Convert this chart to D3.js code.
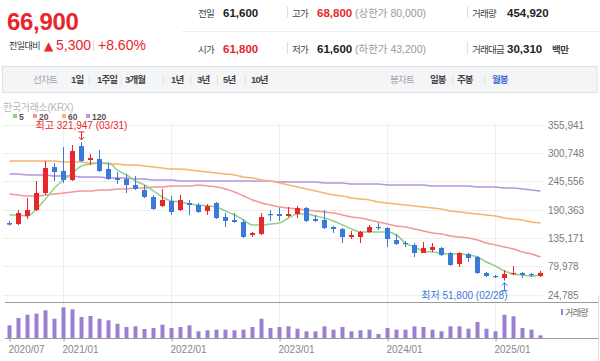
<!DOCTYPE html>
<html><head><meta charset="utf-8">
<script src="https://cdn.jsdelivr.net/npm/d3@7/dist/d3.min.js"></script>
<style>
html,body{margin:0;padding:0;background:#fff;}
svg{display:block;font-family:"Liberation Sans","Noto Sans CJK KR",sans-serif;}
</style></head>
<body><svg id="chart" width="600" height="361"></svg>
<script>
// ---------- DATA ----------
const months = ["2020/07","2020/08","2020/09","2020/10","2020/11","2020/12",
"2021/01","2021/02","2021/03","2021/04","2021/05","2021/06","2021/07","2021/08","2021/09","2021/10","2021/11","2021/12",
"2022/01","2022/02","2022/03","2022/04","2022/05","2022/06","2022/07","2022/08","2022/09","2022/10","2022/11","2022/12",
"2023/01","2023/02","2023/03","2023/04","2023/05","2023/06","2023/07","2023/08","2023/09","2023/10","2023/11","2023/12",
"2024/01","2024/02","2024/03","2024/04","2024/05","2024/06","2024/07","2024/08","2024/09","2024/10","2024/11","2024/12",
"2025/01","2025/02","2025/03","2025/04","2025/05","2025/06"];
const openP = [164000,162000,177700,189400,222500,273000,265400,247800,314000,286800,288700,269300,251700,249800,238100,228400,214700,197200,206900,189400,203000,199100,187400,203000,175800,169900,166000,140700,142600,181600,181600,177700,181600,193300,171900,169900,156300,152400,136800,136800,146500,156300,154300,131000,125100,121200,105600,111500,115400,105600,84200,103700,97800,66700,60800,56900,64700,66700,64700,60800];
const highP = [168000,189400,212800,245900,284800,281000,312000,316000,321947,298500,306300,281000,263400,259500,255600,238000,218600,230300,216700,218600,208900,203000,201000,205000,183500,183500,171900,146500,183500,189400,193300,195200,197200,195200,179700,189400,158200,154300,148500,148500,160200,164000,156300,142600,129000,125100,127000,125100,117300,107600,107600,105600,99800,68600,62800,72500,80300,68600,66700,70600];
const lowP = [159000,160000,171900,187400,218600,245900,242000,245900,283000,277000,263400,247800,240000,222500,228400,212800,189400,195200,179700,187400,179700,183500,179700,171900,156300,164000,134800,136800,140700,168000,168000,175800,173800,166000,166000,152400,144600,125100,132900,125100,144600,150400,117300,121200,117300,97800,105600,107600,99800,80300,78400,88100,64700,58900,56900,51800,62800,56900,58900,58900];
const closeP = [161000,183500,189400,222500,271200,263400,247800,304300,284800,290700,265400,249800,247800,238100,230300,214700,191300,208900,185500,208900,199100,185500,197200,173800,168000,166000,136800,144600,175800,179700,177700,181600,193300,168000,168000,154300,152400,136800,140700,146500,156300,154300,132900,123200,123200,105600,115400,117300,101700,82300,105600,95900,66700,60800,58900,64700,66700,62800,62800,66900];
const ma5 = [179700,179700,177700,191300,210800,232200,247800,261500,275100,279000,280900,280900,267300,257600,245900,238100,226400,214700,206900,205000,201100,199100,197200,195200,187400,179700,169900,160200,160200,162100,164100,173800,181600,181600,177700,173800,168000,160200,152400,146500,146500,146500,146500,140700,125100,117300,109500,107600,105600,103700,103700,101700,97800,88100,80300,70600,64700,62800,60800,62800];
const ma20 = [220600,218600,216700,216700,218600,220600,222500,224500,226400,226400,228400,228400,230300,230300,232200,232200,234200,234200,236100,236100,236100,238100,236100,234200,230300,224500,216700,208900,203000,199100,195200,193300,191300,189400,187400,185500,183500,179700,175800,173800,169900,166000,162100,158200,156300,152400,148500,144600,142600,138700,136800,134800,131000,125100,121200,117300,113400,107600,103700,97800];
const ma60 = [284800,284800,284800,284800,284800,284800,282900,282900,282900,280900,280900,279000,279000,277100,277100,275100,273200,271200,269300,269300,267300,265400,263400,261500,259500,257600,253700,251700,247800,245900,242000,238100,234200,230300,226400,222500,218600,216700,212800,210800,208900,205000,203000,201100,199100,197200,195200,193300,191300,187400,185500,183500,181600,179700,177700,173800,171900,169900,166000,164100];
const ma120 = [259500,259500,257600,257600,257600,255600,255600,255600,253700,253700,253700,251700,251700,251700,249800,249800,247800,247800,247800,245900,245900,245900,245900,245900,245900,245900,245900,245900,245900,245900,243900,243900,243900,243900,243900,242000,242000,242000,240000,240000,240000,240000,238100,238100,238100,238100,238100,236100,236100,236100,236100,236100,234200,234200,234200,232200,232200,230300,228400,226400];
const volume = [1270,2000,2330,2430,2770,1930,3070,2870,2100,2200,1930,1770,1430,1100,1170,900,1000,1330,1000,1100,1270,670,770,830,830,770,830,1100,1930,1000,1100,1170,930,670,670,1170,830,1100,670,770,830,400,1000,830,830,1170,1100,830,670,1170,1170,930,1600,930,670,2330,2170,1000,830,270];
const priceTicks = [355941,300748,245556,190363,135171,79978,24785];
const dateTicks = ["2020/07","2021/01","2022/01","2023/01","2024/01","2025/01"];
const maNames = ["5","20","60","120"];
const periodTabs = ["1일","1주일","3개월","1년","3년","5년","10년"];
const candleTabs = ["일봉","주봉","월봉"];
const lastPrice = 66900, change = 5300, changePct = 8.60;
const row1 = [["전일","61,600",""],["고가","68,800","(상한가 80,000)"],["거래량","454,920",""]];
const row2 = [["시가","61,800",""],["저가","61,600","(하한가 43,200)"],["거래대금","30,310","백만"]];
const maxInfo = {month:"2021/03", value:321947, date:"03/31"};
const minInfo = {month:"2025/02", value:51800, date:"02/28"};

// ---------- DRAW ----------
const RED="#e8262b", BLUE="#3a7ad8", DARK="#222", GRAY="#999";
const maColors = ["#93cf88","#f29797","#f6b46e","#b793e3"];
const svg = d3.select("#chart");
const fmt = d3.format(",");

// header
svg.append("text").attr("x",7).attr("y",30).attr("font-size",24).attr("font-weight","bold")
  .attr("fill",RED).attr("letter-spacing","-0.3").text(fmt(lastPrice));
svg.append("text").attr("x",9).attr("y",49).attr("font-size",9).attr("fill","#333").attr("letter-spacing","-0.5").text("전일대비");
svg.append("text").attr("x",44).attr("y",50).attr("font-size",12).attr("fill",RED).attr("font-family","DejaVu Sans").text("▲");
svg.append("text").attr("x",56).attr("y",50).attr("font-size",14).attr("fill",RED).text(fmt(change));
svg.append("line").attr("x1",93.5).attr("x2",93.5).attr("y1",39).attr("y2",51).attr("stroke","#ddd");
svg.append("text").attr("x",98).attr("y",50).attr("font-size",14).attr("fill",RED).text("+"+changePct.toFixed(2)+"%");

svg.append("line").attr("x1",182).attr("x2",600).attr("y1",31.5).attr("y2",31.5).attr("stroke","#eceef1");
const colX = [[198,223,355],[292,317,355],[472,507,552]];
[[row1,16.5],[row2,52.5]].forEach(([row,yy],ri)=>{
  row.forEach((cell,ci)=>{
    const [lbl,val,extra] = cell;
    svg.append("text").attr("x",colX[ci][0]).attr("y",yy).attr("font-size",9.5).attr("fill","#444").attr("letter-spacing","-0.7").text(lbl);
    const valRed = (ri===0&&ci===1)||(ri===1&&ci===0);
    svg.append("text").attr("x",colX[ci][1]).attr("y",yy).attr("font-size",11.5).attr("font-weight","bold")
      .attr("fill",valRed?RED:DARK).text(val);
    if(extra){
      if(ci===2){
        svg.append("text").attr("x",colX[ci][2]).attr("y",yy).attr("font-size",9.5).attr("font-weight","bold")
          .attr("fill","#444").attr("letter-spacing","-0.5").text(extra);
      } else {
        svg.append("text").attr("x",colX[ci][2]).attr("y",yy).attr("font-size",10.5)
          .attr("fill",GRAY).text(extra);
      }
    }
  });
  [287.5,467.5].forEach(sx=>svg.append("line").attr("x1",sx).attr("x2",sx).attr("y1",yy-10).attr("y2",yy+1).attr("stroke","#ddd"));
});

// tab bar
svg.append("rect").attr("x",2.5).attr("y",66.5).attr("width",594.5).attr("height",26).attr("fill","#f4f5f7").attr("stroke","#dde0e5");
const tabY = 83;
svg.append("text").attr("x",33).attr("y",tabY).attr("font-size",9.5).attr("fill","#a0a4ab").attr("letter-spacing","-0.7").text("선차트");
const tabX = [71,97,125,171,197,223,251];
periodTabs.forEach((t,i)=>svg.append("text").attr("x",tabX[i]).attr("y",tabY).attr("font-size",9.5)
  .attr("font-weight","bold").attr("fill","#444").attr("letter-spacing","-0.9").text(t));
[89,121,163,190,217,245].forEach(sx=>svg.append("line").attr("x1",sx+.5).attr("x2",sx+.5).attr("y1",75).attr("y2",85).attr("stroke","#e1e3e7"));
svg.append("text").attr("x",390).attr("y",tabY).attr("font-size",9.5).attr("fill","#a0a4ab").attr("letter-spacing","-0.7").text("봉차트");
const ctX = [430,457,492];
candleTabs.forEach((t,i)=>svg.append("text").attr("x",ctX[i]).attr("y",tabY).attr("font-size",9.5)
  .attr("font-weight","bold").attr("fill",i===2?"#3b6fd6":"#444").attr("letter-spacing","-0.9").text(t));
[452,484].forEach(sx=>svg.append("line").attr("x1",sx+.5).attr("x2",sx+.5).attr("y1",75).attr("y2",85).attr("stroke","#e1e3e7"));

// scales
const x = d3.scalePoint().domain(months).range([9,540]);
const y = d3.scaleLinear().domain([24785,355941]).range([294.5,124.5]);
const vy = d3.scaleLinear().domain([0,d3.max(volume)]).range([338,307.3]);
const cx = m => x(m)+0.5;

// grid
const grid = svg.append("g");
grid.selectAll("line.h").data(priceTicks).join("line")
  .attr("x1",3).attr("x2",543).attr("y1",d=>Math.round(y(d))+0.5).attr("y2",d=>Math.round(y(d))+0.5)
  .attr("stroke","#efefef");
grid.selectAll("line.v").data(dateTicks.slice(1)).join("line")
  .attr("x1",d=>cx(d)).attr("x2",d=>cx(d)).attr("y1",124).attr("y2",338).attr("stroke","#efefef");

// right axis labels
const yAxis = d3.axisRight(y).tickValues(priceTicks).tickFormat(fmt).tickSize(0).tickPadding(0);
const ya = svg.append("g").attr("transform","translate(548,0)").call(yAxis);
ya.select(".domain").remove();
ya.selectAll("text").attr("font-size",10).attr("fill","#7a7a7a").attr("font-family",null).attr("dy","0.35em");

// source + legend
svg.append("text").attr("x",3).attr("y",111).attr("font-size",10).attr("fill","#b8b8b8").attr("letter-spacing","-0.3").text("한국거래소(KRX)");
const legX = [13,33,62,86];
maNames.forEach((n,i)=>{
  svg.append("rect").attr("x",legX[i]).attr("y",114).attr("width",4).attr("height",4).attr("fill",maColors[i]);
  svg.append("text").attr("x",legX[i]+6).attr("y",119.5).attr("font-size",8.5).attr("font-weight","bold").attr("fill","#555").text(n);
});

// clip
svg.append("clipPath").attr("id","plot").append("rect").attr("x",3).attr("y",118).attr("width",541).attr("height",180);

// MA lines
const lineGen = d3.line().x((d,i)=>cx(months[i])).y(d=>y(d)).curve(d3.curveMonotoneX);
const maG = svg.append("g").attr("clip-path","url(#plot)");
[ma120,ma60,ma20,ma5].forEach((arr,k)=>{
  const idx = 3-k;
  maG.append("path").attr("d",lineGen(arr)).attr("fill","none").attr("stroke",maColors[idx]).attr("stroke-width",1.5);
});

// candles
const data = months.map((m,i)=>({m,o:openP[i],h:highP[i],l:lowP[i],c:closeP[i],v:volume[i]}));
const cg = svg.append("g");
const col = d => d.c>=d.o?RED:BLUE;
cg.selectAll("line.w").data(data).join("line")
  .attr("x1",d=>cx(d.m)).attr("x2",d=>cx(d.m)).attr("y1",d=>y(d.h)).attr("y2",d=>y(d.l))
  .attr("stroke",col).attr("stroke-width",1);
cg.selectAll("rect.b").data(data).join("rect")
  .attr("x",d=>cx(d.m)-2.5).attr("width",5)
  .attr("y",d=>y(Math.max(d.o,d.c))).attr("height",d=>Math.max(1.2,Math.abs(y(d.o)-y(d.c))))
  .attr("fill",col);

// max / min annotations
const mxX = cx(maxInfo.month), mxY = y(maxInfo.value);
svg.append("text").attr("x",mxX).attr("y",mxY-13).attr("text-anchor","middle").attr("font-size",10).attr("fill",RED)
  .text("최고 "+fmt(maxInfo.value)+" ("+maxInfo.date+")");
svg.append("path").attr("d",`M${mxX-3},${mxY-10}H${mxX+3}M${mxX},${mxY-10}V${mxY-2}M${mxX-2.5},${mxY-5}L${mxX},${mxY-2}L${mxX+2.5},${mxY-5}`)
  .attr("stroke",RED).attr("fill","none").attr("stroke-width",1);
const mnX = cx(minInfo.month), mnY = y(minInfo.value);
svg.append("path").attr("d",`M${mnX-3},${mnY+10}H${mnX+3}M${mnX},${mnY+10}V${mnY+2}M${mnX-2.5},${mnY+5}L${mnX},${mnY+2}L${mnX+2.5},${mnY+5}`)
  .attr("stroke",BLUE).attr("fill","none").attr("stroke-width",1);
svg.append("text").attr("x",mnX+3).attr("y",mnY+18).attr("text-anchor","end").attr("font-size",10).attr("fill",BLUE)
  .text("최저 "+fmt(minInfo.value)+" ("+minInfo.date+")");

// volume panel
svg.append("line").attr("x1",5).attr("x2",598).attr("y1",302.5).attr("y2",302.5).attr("stroke","#9a9a9a");
svg.selectAll("rect.vol").data(data).join("rect")
  .attr("x",d=>cx(d.m)-2).attr("width",4).attr("y",d=>vy(d.v)).attr("height",d=>338-vy(d.v)).attr("fill","#9b80d2");
svg.append("line").attr("x1",5).attr("x2",598).attr("y1",338.5).attr("y2",338.5).attr("stroke","#9a9a9a");
svg.append("rect").attr("x",561).attr("y",309).attr("width",2).attr("height",6).attr("fill","#9b80d2");
svg.append("text").attr("x",565).attr("y",315.5).attr("font-size",9).attr("fill","#666").attr("letter-spacing","-0.6").text("거래량");

// x axis
const xAxis = d3.axisBottom(x).tickValues(dateTicks).tickSize(3).tickPadding(4);
const xa = svg.append("g").attr("transform","translate(0.5,338.5)").call(xAxis);
xa.select(".domain").remove();
xa.selectAll("line").attr("stroke","#9a9a9a");
xa.selectAll("text").attr("font-size",10).attr("fill","#888").attr("font-family",null).attr("text-anchor","start").attr("dx",-1.5);

svg.append("line").attr("x1",598.5).attr("x2",598.5).attr("y1",295).attr("y2",361).attr("stroke","#ddd");
</script></body></html>
